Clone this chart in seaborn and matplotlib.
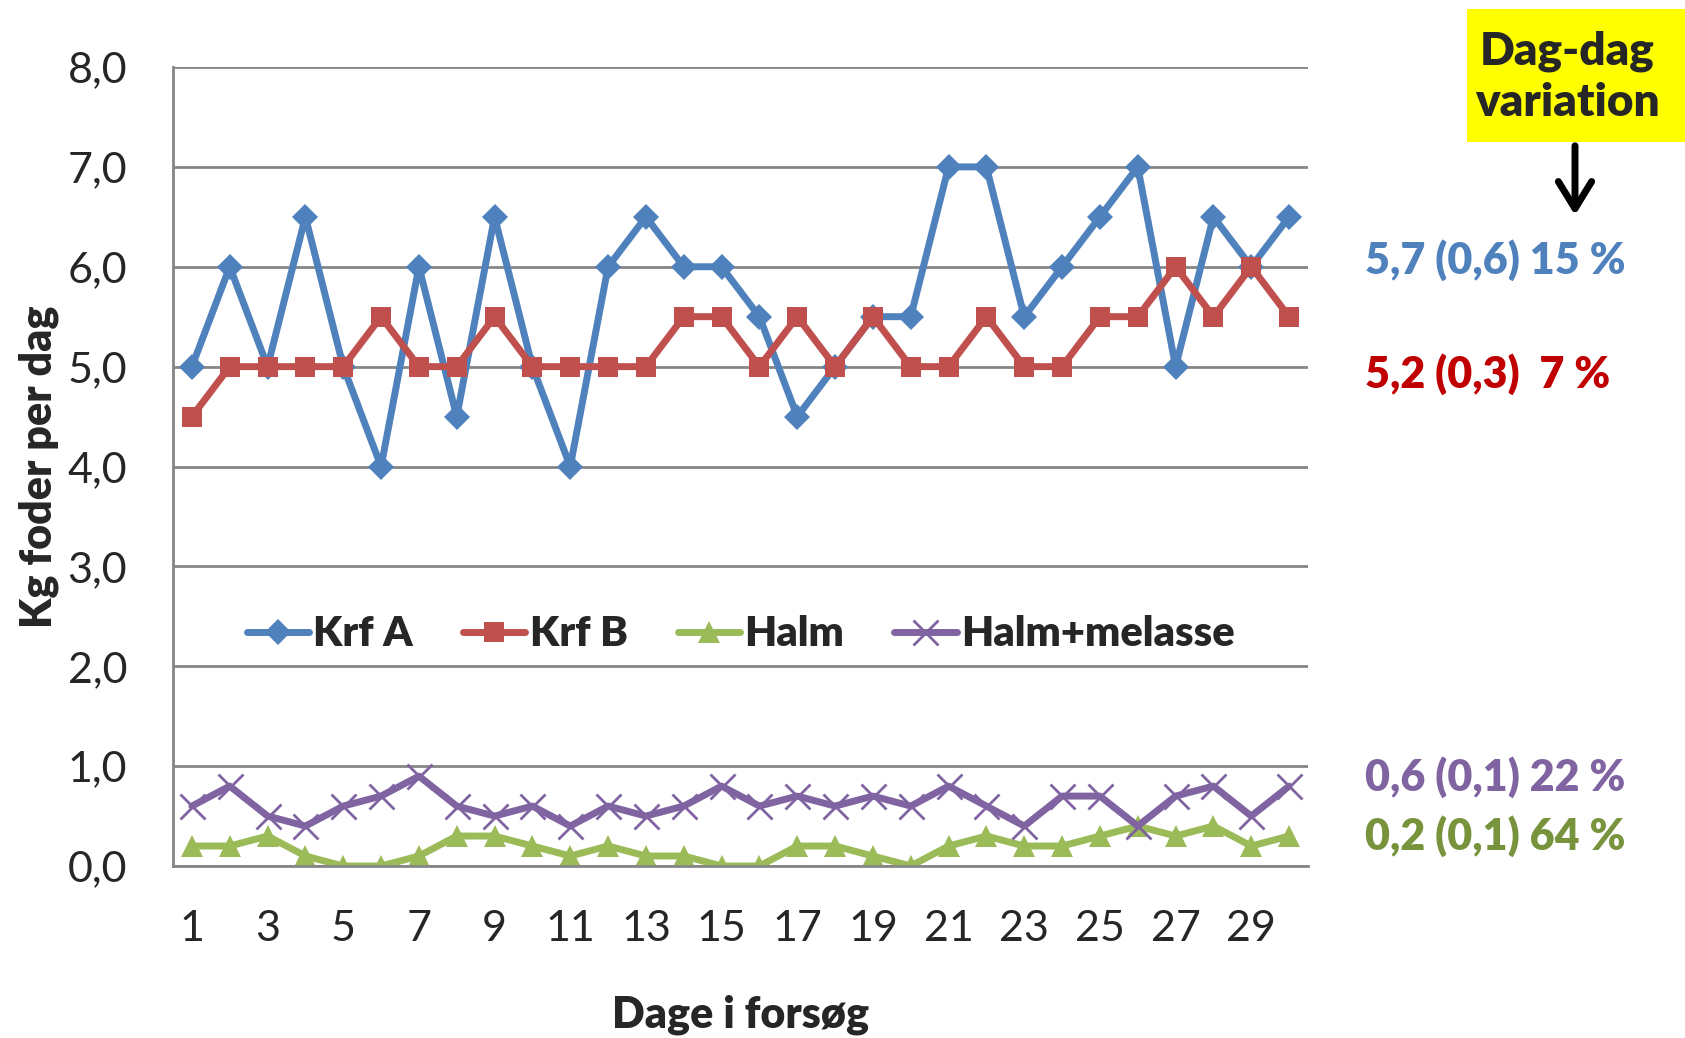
import matplotlib
matplotlib.use("Agg")
import matplotlib.pyplot as plt
import seaborn as sns
import pandas as pd

# Data (kg foder per dag, dag 1-30)
dage = list(range(1, 31))
krf_a = [5.0, 6.0, 5.0, 6.5, 5.0, 4.0, 6.0, 4.5, 6.5, 5.0,
         4.0, 6.0, 6.5, 6.0, 6.0, 5.5, 4.5, 5.0, 5.5, 5.5,
         7.0, 7.0, 5.5, 6.0, 6.5, 7.0, 5.0, 6.5, 6.0, 6.5]
krf_b = [4.5, 5.0, 5.0, 5.0, 5.0, 5.5, 5.0, 5.0, 5.5, 5.0,
         5.0, 5.0, 5.0, 5.5, 5.5, 5.0, 5.5, 5.0, 5.5, 5.0,
         5.0, 5.5, 5.0, 5.0, 5.5, 5.5, 6.0, 5.5, 6.0, 5.5]
halm = [0.2, 0.2, 0.3, 0.1, 0.0, 0.0, 0.1, 0.3, 0.3, 0.2,
        0.1, 0.2, 0.1, 0.1, 0.0, 0.0, 0.2, 0.2, 0.1, 0.0,
        0.2, 0.3, 0.2, 0.2, 0.3, 0.4, 0.3, 0.4, 0.2, 0.3]
halm_melasse = [0.6, 0.8, 0.5, 0.4, 0.6, 0.7, 0.9, 0.6, 0.5, 0.6,
                0.4, 0.6, 0.5, 0.6, 0.8, 0.6, 0.7, 0.6, 0.7, 0.6,
                0.8, 0.6, 0.4, 0.7, 0.7, 0.4, 0.7, 0.8, 0.5, 0.8]

serier = ["Krf A", "Krf B", "Halm", "Halm+melasse"]
farver = ["#4F81BD", "#C0504D", "#9BBB59", "#8064A2"]
markers = ["D", "s", "^", "x"]
marker_str = [13, 14, 16, 18]

# right side summary: mean (sd) CV
noegletal = ["5,7 (0,6) 15 %", "5,2 (0,3)  7 %", "0,6 (0,1) 22 %", "0,2 (0,1) 64 %"]
noegle_farver = ["#4F81BD", "#C00000", "#8064A2", "#77933C"]
noegle_y = [260, 374, 777, 836]

y_ticks = [0, 1, 2, 3, 4, 5, 6, 7, 8]
x_ticks = list(range(1, 30, 2))

df = pd.DataFrame({"Dag": dage, "Krf A": krf_a, "Krf B": krf_b,
                   "Halm": halm, "Halm+melasse": halm_melasse})

sns.set_style("white")
plt.rcParams['font.family'] = ['Lato', 'DejaVu Sans']
FET = "heavy"

W, H = 1685, 1038
fig = plt.figure(figsize=(W / 100, H / 100), dpi=100)
ax = fig.add_axes([173 / W, 1 - 866 / H, (1308 - 173) / W, (866 - 67) / H])

for navn, farve, m, ms in zip(serier, farver, markers, marker_str):
    kw = dict(markeredgewidth=0) if m != "x" else dict(markeredgewidth=2, markeredgecolor=farve)
    sns.lineplot(data=df, x="Dag", y=navn, color=farve, marker=m, markersize=ms,
                 linewidth=5, label=navn, ax=ax, **kw)

ax.set_xlim(0.5, 30.5)
ax.set_ylim(0, 8)
ax.set_yticks(y_ticks)
ax.set_yticklabels([f"{v:.1f}".replace(".", ",") for v in y_ticks], fontsize=31)
ax.set_xticks(x_ticks)
ax.set_xticklabels([str(v) for v in x_ticks], fontsize=31)
ax.tick_params(axis="x", length=0, pad=32)
ax.tick_params(axis="y", length=7, width=1.5, color="#868686", pad=26)
ax.yaxis.grid(True, color="#868686", linewidth=2)
ax.set_axisbelow(True)
for s in ["top", "right"]:
    ax.spines[s].set_visible(False)
for s in ["left", "bottom"]:
    ax.spines[s].set_color("#868686")
    ax.spines[s].set_linewidth(2)

ax.set_xlabel("Dage i forsøg", fontsize=31, fontweight=FET, labelpad=33)
ax.set_ylabel("Kg foder per dag", fontsize=31, fontweight=FET, labelpad=6)

leg = ax.legend(loc="center", bbox_to_anchor=(0.5, 0.29), ncol=4, frameon=False,
                prop={"size": 30, "weight": FET}, handlelength=1.5,
                handletextpad=0.1, columnspacing=1.2)

for tekst, farve, y in zip(noegletal, noegle_farver, noegle_y):
    fig.text(1365 / W, 1 - y / H, tekst, color=farve, fontsize=31,
             fontweight=FET, ha="left", va="center")

# yellow box with arrow
fig.add_artist(matplotlib.patches.Rectangle((1467 / W, 1 - 142 / H), (W - 1467) / W, 133 / H,
                                            transform=fig.transFigure, facecolor="#FFFF00",
                                            edgecolor="none"))
fig.text(1567 / W, 1 - 77 / H, "Dag-dag\nvariation", fontsize=33, fontweight=FET,
         ha="center", va="center", linespacing=1.3)
fig.add_artist(matplotlib.patches.FancyArrowPatch(
    (1575 / W, 1 - 143 / H), (1575 / W, 1 - 218 / H), transform=fig.transFigure,
    arrowstyle="->,head_width=0.4,head_length=0.65", mutation_scale=30,
    color="black", linewidth=5))

fig.savefig("out.png", dpi=100)
